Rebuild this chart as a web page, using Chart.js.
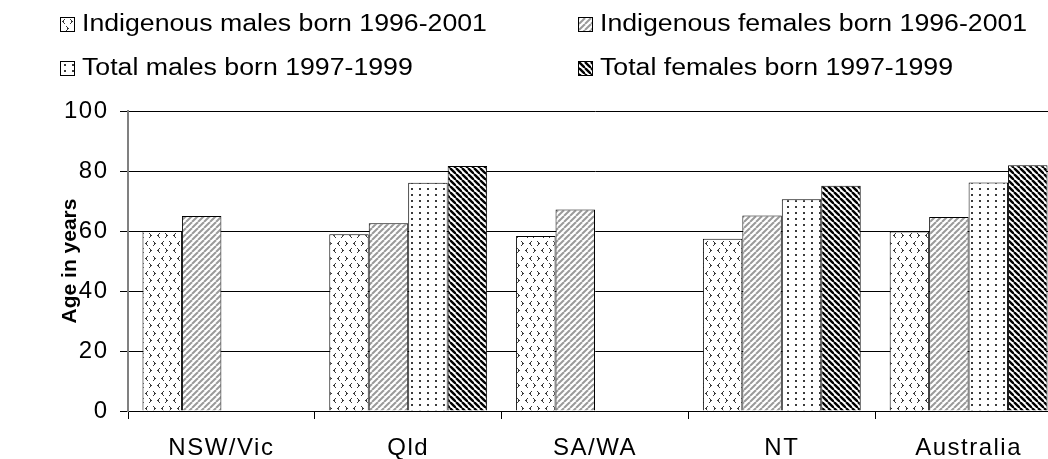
<!DOCTYPE html>
<html>
<head>
<meta charset="utf-8">
<script src="https://cdn.jsdelivr.net/npm/chart.js@4.4.1/dist/chart.umd.min.js"></script>
<style>
    html, body {
        margin: 0;
        padding: 0;
        width: 1048px;
        height: 459px;
        overflow: hidden;
        background: #fff;
        font-family: "Liberation Sans", Arial, sans-serif;
    }
    #wrap {
        position: relative;
        width: 1048px;
        height: 459px;
        overflow: hidden;
    }
    #chart {
        position: absolute;
        left: 0;
        top: 0;
    }
    .legend-box {
        position: absolute;
        border: 1px solid #000;
    }
    .legend-text {
        position: absolute;
        font-size: 23px;
        line-height: 1;
        color: #000;
        white-space: nowrap;
        transform: scaleX(1.16);
        transform-origin: 0 50%;
    }
</style>
</head>
<body>
<div id="wrap">
    <canvas id="chart" width="1070" height="459"></canvas>
</div>
<script>
// Chart data
const categories = ['NSW/Vic', 'Qld', 'SA/WA', 'NT', 'Australia'];
const indigenousMales = [60.0, 58.9, 58.3, 57.4, 59.8];
const indigenousFemales = [65.0, 62.6, 67.2, 65.2, 64.7];
const totalMales = [null, 76.1, null, 70.6, 76.2];
const totalFemales = [null, 81.7, null, 75.1, 81.9];
const seriesNames = [
    'Indigenous males born 1996-2001',
    'Indigenous females born 1996-2001',
    'Total males born 1997-1999',
    'Total females born 1997-1999'
];
const yTicks = [0, 20, 40, 60, 80, 100];

/**
 * Build a repeating fill from a small tile
 */
function makePattern(w, h, draw) {
    const c = document.createElement('canvas');
    c.width = w;
    c.height = h;
    const g = c.getContext('2d');
    g.fillStyle = '#fff';
    g.fillRect(0, 0, w, h);
    draw(g);
    return g.createPattern(c, 'repeat');
}

function chevron(g, x, y, left) {
    // small < or > mark
    g.fillStyle = '#3a3a3a';
    if (left) {
        g.fillRect(x + 2, y, 1, 1);
        g.fillRect(x + 1, y + 1, 1, 1);
        g.fillRect(x, y + 2, 2, 1);
        g.fillRect(x + 1, y + 3, 1, 1);
        g.fillRect(x + 2, y + 4, 1, 1);
    } else {
        g.fillRect(x, y, 1, 1);
        g.fillRect(x + 1, y + 1, 1, 1);
        g.fillRect(x + 1, y + 2, 2, 1);
        g.fillRect(x + 1, y + 3, 1, 1);
        g.fillRect(x, y + 4, 1, 1);
    }
}

function stripes(g, size, color, width, down) {
    g.strokeStyle = color;
    g.lineWidth = width;
    for (let k = -1; k <= 1; k++) {
        g.beginPath();
        if (down) {
            g.moveTo(k * size, 0);
            g.lineTo(k * size + size, size);
        } else {
            g.moveTo(k * size, size);
            g.lineTo(k * size + size, 0);
        }
        g.stroke();
    }
}

const patterns = [
    makePattern(16, 15, g => {
        chevron(g, 1, 1, true);
        chevron(g, 9, 1, false);
        chevron(g, 5, 8, false);
        chevron(g, 13, 8, true);
    }),
    makePattern(6, 6, g => stripes(g, 6, '#9a9a9a', 2, false)),
    makePattern(8, 6, g => {
        g.fillStyle = '#3a3a3a';
        g.fillRect(3, 2, 2, 2);
    }),
    makePattern(6, 6, g => stripes(g, 6, '#000', 2.4, true))
];

// HTML legend (two columns), text centre y and box top per row
const legendCols = [60, 578];
const legendRows = [{ text: 23, box: 17 }, { text: 67, box: 61 }];
seriesNames.forEach((name, i) => {
    const x = legendCols[i % 2];
    const row = legendRows[Math.floor(i / 2)];
    const wrap = document.getElementById('wrap');

    const sw = document.createElement('canvas');
    sw.className = 'legend-box';
    sw.width = 13;
    sw.height = 13;
    sw.style.left = x + 'px';
    sw.style.top = row.box + 'px';
    const sg = sw.getContext('2d');
    sg.fillStyle = patterns[i];
    sg.fillRect(0, 0, 13, 13);
    wrap.appendChild(sw);

    const label = document.createElement('div');
    label.className = 'legend-text';
    label.textContent = name;
    label.style.left = (x + 22) + 'px';
    label.style.top = (row.text - 11.2) + 'px';
    wrap.appendChild(label);
});

const seriesData = [indigenousMales, indigenousFemales, totalMales, totalFemales];
const tickFont = { family: '"Liberation Sans", Arial', size: 24 };

// Wider glyph spacing for tick labels, none for the axis title
const spacingPlugin = {
    id: 'spacing',
    beforeDraw(chart) {
        chart.ctx.letterSpacing = '1.5px';
        const y = chart.scales.y;
        if (y && !y._plainTitle) {
            const base = Object.getPrototypeOf(y).drawTitle;
            y.drawTitle = function () {
                const prev = this.ctx.letterSpacing;
                this.ctx.letterSpacing = '0px';
                base.call(this);
                this.ctx.letterSpacing = prev;
            };
            y._plainTitle = true;
        }
    },
    afterDraw(chart) {
        chart.ctx.letterSpacing = '0px';
    }
};

const ctx = document.getElementById('chart');
new Chart(ctx, {
    type: 'bar',
    data: {
        labels: categories,
        datasets: seriesData.map((vals, i) => ({
            label: seriesNames[i],
            data: vals,
            backgroundColor: patterns[i],
            borderColor: '#000',
            borderWidth: 1,
            categoryPercentage: 0.845,
            barPercentage: 1
        }))
    },
    plugins: [spacingPlugin],
    options: {
        responsive: false,
        animation: false,
        devicePixelRatio: 1,
        layout: {
            padding: { left: 50, top: 111, right: 8, bottom: 0 }
        },
        plugins: {
            legend: { display: false },
            tooltip: { enabled: false }
        },
        scales: {
            x: {
                grid: {
                    drawOnChartArea: false,
                    drawTicks: true,
                    tickLength: 8,
                    offset: true,
                    color: '#000'
                },
                border: { color: '#000', width: 1 },
                ticks: {
                    color: '#000',
                    padding: 15,
                    font: tickFont
                },
                afterFit(scale) {
                    scale.height = 48;
                }
            },
            y: {
                min: 0,
                max: 100,
                afterBuildTicks(scale) {
                    scale.ticks = yTicks.map(v => ({ value: v }));
                },
                grid: {
                    color: '#000',
                    tickLength: 8
                },
                border: { color: '#808080', width: 2 },
                ticks: {
                    color: '#000',
                    padding: 11.5,
                    font: tickFont
                },
                title: {
                    display: true,
                    text: 'Age in years',
                    color: '#000',
                    padding: { top: 8, bottom: 0 },
                    font: { family: '"Liberation Sans", Arial', size: 21, weight: 'bold' }
                },
                afterFit(scale) {
                    scale.width = 78;
                }
            }
        }
    }
});
</script>
</body>
</html>
